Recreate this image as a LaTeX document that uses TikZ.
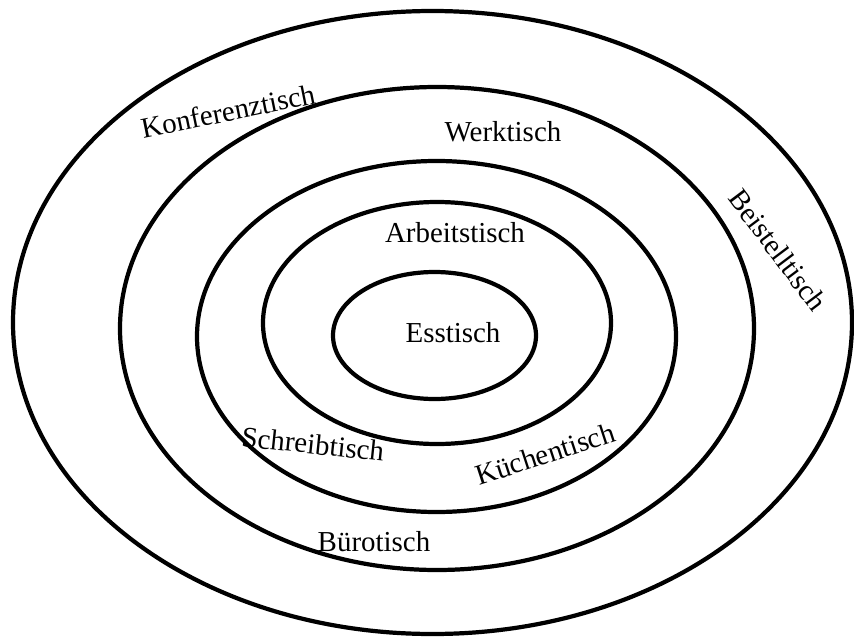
\documentclass[tikz,border=0pt]{standalone}
\usepackage{fontspec}
\setmainfont{Liberation Serif}

\tikzset{
    ring/.style={draw, line width=3.6pt},
    tischtext/.style={font=\fontsize{24.7}{29}\selectfont, inner sep=0pt}
}

\begin{document}
\begin{tikzpicture}[x=0.03cm, y=-0.03cm]
                \useasboundingbox (0, 0) rectangle (854, 639);

                % rings, from outside to inside
                \draw[ring] (432.5, 322.5) ellipse [x radius=419.5, y radius=311.5];
                \draw[ring] (437, 328.5) ellipse [x radius=317, y radius=241.5];
                \draw[ring] (436.5, 336.5) ellipse [x radius=239.5, y radius=175.5];
                \draw[ring] (437, 323) ellipse [x radius=174, y radius=121];
                \draw[ring] (434.5, 335.5) ellipse [x radius=101.5, y radius=63.5];

                % labels in the rings
                \node[tischtext, rotate=11.5] (konferenz) at (228, 111) {Konferenztisch};
                \node[tischtext] (werk) at (503, 132) {Werktisch};
                \node[tischtext, rotate=-53] (beistell) at (778, 250) {Beistelltisch};
                \node[tischtext] (arbeit) at (455, 233) {Arbeitstisch};
                \node[tischtext] (ess) at (453, 333) {Esstisch};
                \node[tischtext, rotate=-6] (schreib) at (313, 444) {Schreibtisch};
                \node[tischtext, rotate=18] (kueche) at (545, 454) {Küchentisch};
                \node[tischtext] (buero) at (374, 542) {Bürotisch};

\end{tikzpicture}
\end{document}
